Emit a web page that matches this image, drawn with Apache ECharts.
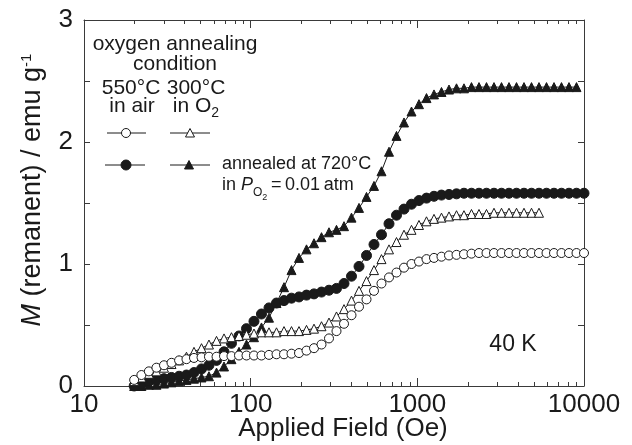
<!DOCTYPE html>
<html><head><meta charset="utf-8">
<script src="https://cdn.jsdelivr.net/npm/echarts@6/dist/echarts.min.js"></script>
<style>html,body{margin:0;padding:0;background:#fff}#c{width:632px;height:445px}</style>
</head><body><div id="c"></div>
<script>
// Applied field (Oe) for each measured point
const fieldOe = [20.0, 22.1, 24.5, 27.2, 30.2, 33.5, 37.2, 41.2, 45.7, 50.7, 56.2, 62.4, 69.2, 76.7, 85.1, 94.4,
  104.7, 116.1, 128.8, 142.9, 158.5, 175.8, 195.0, 216.3, 239.9, 266.1, 295.1, 327.3, 363.1, 402.7, 446.7, 495.5,
  549.5, 609.5, 676.1, 749.9, 831.8, 922.6, 1023, 1135, 1259, 1396, 1549, 1718, 1905, 2113, 2344, 2600, 2884,
  3199, 3548, 3936, 4365, 4842, 5370, 5957, 6607, 7328, 8128, 9016, 10000];

// 550°C in air (open circles)
const air550 = [0.05,0.09,0.12,0.15,0.17,0.19,0.21,0.22,0.23,0.235,0.24,0.24,0.245,0.245,0.25,0.25,0.25,0.25,0.255,0.26,
  0.26,0.265,0.27,0.29,0.31,0.34,0.39,0.45,0.51,0.58,0.65,0.71,0.78,0.84,0.89,0.93,0.97,1.00,1.02,1.04,
  1.05,1.06,1.07,1.075,1.08,1.085,1.09,1.09,1.09,1.09,1.09,1.09,1.09,1.09,1.09,1.09,1.09,1.09,1.09,1.09,1.09];
// 300°C in O2 (open triangles)
const o2300 = [0.04,0.07,0.10,0.12,0.15,0.18,0.21,0.24,0.28,0.31,0.34,0.37,0.39,0.40,0.41,0.42,0.43,0.44,0.44,0.44,
  0.45,0.45,0.45,0.46,0.47,0.49,0.52,0.57,0.63,0.70,0.78,0.86,0.95,1.04,1.12,1.18,1.24,1.28,1.32,1.35,
  1.37,1.38,1.39,1.40,1.40,1.41,1.41,1.41,1.42,1.42,1.42,1.42,1.42,1.42,1.42];
// 550°C in air, annealed at 720°C (filled circles)
const air550Ann = [0.00,0.02,0.04,0.05,0.06,0.07,0.08,0.09,0.11,0.14,0.17,0.21,0.28,0.35,0.41,0.47,0.53,0.59,0.64,0.68,
  0.70,0.72,0.73,0.745,0.755,0.77,0.785,0.80,0.84,0.90,0.98,1.07,1.16,1.24,1.33,1.40,1.45,1.49,1.52,1.54,
  1.555,1.565,1.57,1.575,1.58,1.58,1.58,1.58,1.58,1.58,1.58,1.58,1.58,1.58,1.58,1.58,1.58,1.58,1.58,1.58,1.58];
// 300°C in O2, annealed at 720°C (filled triangles)
const o2300Ann = [0.00,0.00,0.01,0.01,0.02,0.03,0.04,0.05,0.06,0.07,0.08,0.11,0.16,0.22,0.28,0.34,0.40,0.48,0.56,0.68,
  0.81,0.95,1.05,1.12,1.17,1.22,1.26,1.28,1.31,1.38,1.46,1.55,1.64,1.76,1.92,2.05,2.16,2.25,2.31,2.36,
  2.39,2.41,2.43,2.44,2.44,2.45,2.45,2.45,2.45,2.45,2.45,2.45,2.45,2.45,2.45,2.45,2.45,2.45,2.45,2.45];

const xMajorTicks = [10, 100, 1000, 10000];
const xMinorTicks = [20,30,40,50,60,70,80,90,200,300,400,500,600,700,800,900,2000,3000,4000,5000,6000,7000,8000,9000];
const yLabelTicks = [0, 1, 2, 3];

const FONT = 'Liberation Sans, Arial, Helvetica, sans-serif';
const INK = '#1a1a1a';
const AX = '#3a3a3a';

function pairs(ys) { return ys.map((y, i) => [fieldOe[i], y]); }

function xAxisDef(pos, showLabel) {
  return {
    type: 'log', logBase: 10, min: 10, max: 10000, position: pos,
    axisLine: { show: true, onZero: false, lineStyle: { color: AX, width: 1 } },
    axisTick: { show: true, inside: true, length: 8, lineStyle: { color: AX, width: 1 } },
    axisLabel: { show: showLabel, fontSize: 26, color: INK, fontFamily: FONT, margin: 6,
      formatter: v => String(Math.round(v)) },
    splitLine: { show: false }
  };
}
function yAxisDef(pos, showLabel) {
  return {
    type: 'value', min: 0, max: 3, interval: 0.5, position: pos,
    axisLine: { show: true, onZero: false, lineStyle: { color: AX, width: 1 } },
    axisTick: { show: true, inside: true, length: 6, lineStyle: { color: AX, width: 1 } },
    axisLabel: { show: showLabel, fontSize: 26, color: INK, fontFamily: FONT, margin: 11,
      formatter: v => (yLabelTicks.indexOf(v) >= 0 ? String(v) : '') },
    splitLine: { show: false }
  };
}

const xb = xAxisDef('bottom', true);
xb.name = 'Applied Field (Oe)';
xb.nameLocation = 'middle';
xb.nameGap = 30;
xb.nameMoveOverlap = false;
xb.nameTextStyle = { fontSize: 26, color: INK, fontFamily: FONT, padding: [0, 0, 0, 18] };

const yl = yAxisDef('left', true);
yl.name = '{i|M} (remanent) / emu g{sup|-1}';
yl.nameLocation = 'middle';
yl.nameGap = 38;
yl.nameRotate = 90;
yl.nameTextStyle = { fontSize: 27, color: INK, fontFamily: FONT, padding: [0, 0, 0, 26],
  rich: { i: { fontStyle: 'italic', fontSize: 27, fontFamily: FONT, color: INK },
          sup: { fontSize: 15, fontFamily: FONT, color: INK, verticalAlign: 'top', lineHeight: 15 } } };

function lineSeries(name, ys, symbol, size, filled) {
  return {
    name, type: 'line', xAxisIndex: 0, yAxisIndex: 0, data: pairs(ys),
    symbol, symbolSize: size, showSymbol: true, showAllSymbol: true,
    lineStyle: { color: INK, width: 1 },
    itemStyle: { color: filled ? INK : '#ffffff', borderColor: INK, borderWidth: 1 },
    animation: false
  };
}

const legendTxt = (text, x, y, size, align, extra) => ({
  type: 'text', x, y, silent: true,
  style: Object.assign({ text, fontSize: size, fontFamily: FONT, fill: INK, align: align, verticalAlign: 'middle' }, extra || {})
});

const legendGraphic = [
  legendTxt('oxygen annealing', 175, 44, 21, 'center'),
  legendTxt('condition', 175, 64, 21, 'center'),
  legendTxt('550°C', 131, 88, 21, 'center'),
  legendTxt('in air', 132, 106, 21, 'center'),
  legendTxt('300°C', 196, 88, 21, 'center'),
  legendTxt('in O{sub|2}', 196, 106, 21, 'center', {
    rich: { sub: { fontSize: 14, fontFamily: FONT, fill: INK, verticalAlign: 'bottom', lineHeight: 14, padding: [0, 0, -4, 0] } } }),
  { type: 'line', silent: true, shape: { x1: 107, y1: 133, x2: 146, y2: 133 }, style: { stroke: INK, lineWidth: 1 } },
  { type: 'circle', silent: true, shape: { cx: 126, cy: 133, r: 4.5 }, style: { fill: '#fff', stroke: INK, lineWidth: 1 } },
  { type: 'line', silent: true, shape: { x1: 170, y1: 133, x2: 210, y2: 133 }, style: { stroke: INK, lineWidth: 1 } },
  { type: 'polygon', silent: true, shape: { points: [[190, 128.5], [185.5, 137], [194.5, 137]] }, style: { fill: '#fff', stroke: INK, lineWidth: 1 } },
  { type: 'line', silent: true, shape: { x1: 105, y1: 165, x2: 145, y2: 165 }, style: { stroke: INK, lineWidth: 1 } },
  { type: 'circle', silent: true, shape: { cx: 126, cy: 165, r: 5 }, style: { fill: INK, stroke: INK, lineWidth: 1 } },
  { type: 'line', silent: true, shape: { x1: 170, y1: 165, x2: 210, y2: 165 }, style: { stroke: INK, lineWidth: 1 } },
  { type: 'polygon', silent: true, shape: { points: [[189, 160.5], [184.5, 169], [193.5, 169]] }, style: { fill: INK, stroke: INK, lineWidth: 1 } },
  legendTxt('annealed at 720°C', 222, 164, 18, 'left'),
  legendTxt('in {i|P}{s1|O}{s2|2}\u2009=\u20090.01\u2009atm', 222, 185, 18, 'left', {
    rich: {
      i: { fontStyle: 'italic', fontSize: 18, fontFamily: FONT, fill: INK },
      s1: { fontSize: 12, fontFamily: FONT, fill: INK, verticalAlign: 'bottom', lineHeight: 12, padding: [0, 0, -5, 0] },
      s2: { fontSize: 9, fontFamily: FONT, fill: INK, verticalAlign: 'bottom', lineHeight: 9, padding: [0, 0, -8, 0] }
    } }),
  legendTxt('40 K', 513, 345, 23, 'center')
];

const chart = echarts.init(document.getElementById('c'), null, { renderer: 'canvas' });
chart.setOption({
  backgroundColor: '#fff',
  animation: false,
  grid: { left: 84, right: 48, top: 20, bottom: 59, containLabel: false, outerBoundsMode: 'none' },
  xAxis: [xb, xAxisDef('top', false)],
  yAxis: [yl, yAxisDef('right', false)],
  series: [
    lineSeries('300°C in O2, annealed', o2300Ann, 'triangle', 9, true),
    lineSeries('550°C in air, annealed', air550Ann, 'circle', 10, true),
    lineSeries('300°C in O2', o2300, 'triangle', 9, false),
    lineSeries('550°C in air', air550, 'circle', 9, false)
  ],
  graphic: legendGraphic
});

// minor log ticks (2..9 of each decade) on bottom and top frame, positioned by the x scale
const yBot = chart.convertToPixel({ yAxisIndex: 0 }, 0);
const yTop = chart.convertToPixel({ yAxisIndex: 0 }, 3);
const minorTickG = [];
xMinorTicks.forEach(v => {
  const px = Math.round(chart.convertToPixel({ xAxisIndex: 0 }, v)) + 0.5;
  minorTickG.push({ type: 'line', silent: true, shape: { x1: px, y1: yBot, x2: px, y2: yBot - 4 }, style: { stroke: AX, lineWidth: 1 } });
  minorTickG.push({ type: 'line', silent: true, shape: { x1: px, y1: yTop, x2: px, y2: yTop + 4 }, style: { stroke: AX, lineWidth: 1 } });
});
chart.setOption({ graphic: legendGraphic.concat(minorTickG) });
</script></body></html>
